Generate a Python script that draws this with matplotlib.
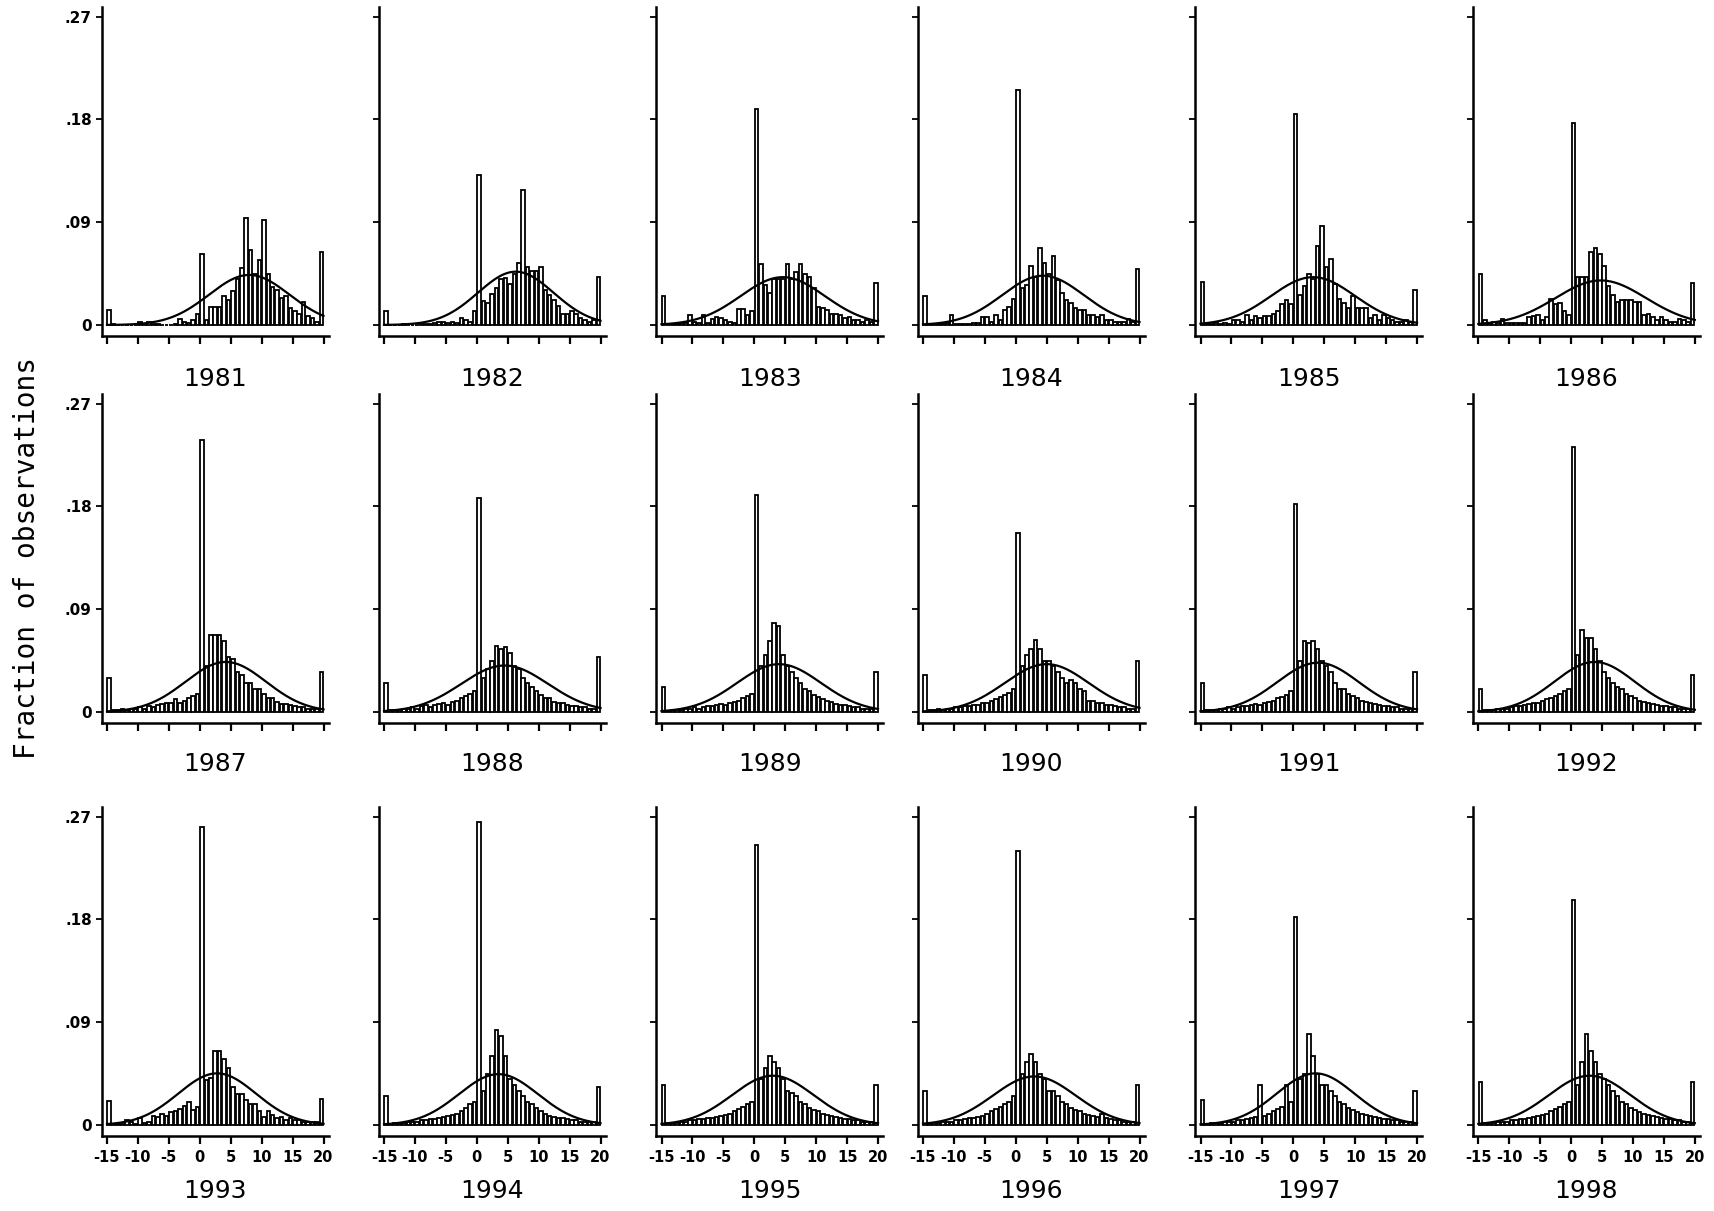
import matplotlib
matplotlib.use("Agg")
import matplotlib.pyplot as plt
import numpy as np

# fraction of observations in each of 49 bins from -15 to 20
f1981 = [.013, .001, 0, 0, 0, 0, 0, .003, .001, .003, .001, .001, 0, 0, 0, .001, .005, .003, .002, .004, .010,
         .062, .004, .016, .016, .016, .025, .022, .030, .040, .050, .094, .066, .045, .057, .092, .045, .033,
         .031, .024, .025, .015, .012, .010, .020, .008, .006, .003, .064]
f1982 = [.012, 0, 0, 0, .001, 0, 0, 0, .001, .001, .001, .002, .003, .003, .002, .003, .002, .006, .004, .003, .012,
         .131, .021, .019, .027, .032, .040, .041, .036, .045, .054, .118, .051, .047, .047, .051, .031, .026,
         .022, .017, .010, .010, .012, .010, .006, .004, .003, .004, .042]
f1983 = [.025, 0, .001, .001, .002, .002, .009, .003, .002, .009, .002, .005, .007, .006, .004, .003, .002, .014,
         .014, .009, .012, .189, .053, .035, .028, .040, .040, .040, .053, .040, .046, .053, .045, .042, .032,
         .016, .015, .013, .010, .010, .009, .006, .007, .004, .004, .003, .004, .003, .037]
f1984 = [.025, .001, .001, .001, .001, .002, .009, .001, .001, .001, .001, .002, .002, .007, .007, .003, .009,
         .004, .013, .016, .023, .206, .032, .035, .052, .042, .067, .054, .045, .060, .039, .028, .022, .019,
         .015, .013, .013, .009, .009, .007, .009, .004, .004, .003, .003, .003, .005, .003, .049]
f1985 = [.038, .001, .001, .002, .001, .002, .001, .004, .004, .003, .009, .004, .008, .006, .008, .008, .010,
         .012, .018, .022, .018, .185, .026, .034, .045, .040, .069, .087, .051, .058, .036, .023, .019, .015,
         .025, .015, .015, .015, .006, .009, .004, .009, .006, .004, .003, .003, .004, .003, .031]
f1986 = [.045, .004, .002, .003, .002, .005, .002, .002, .002, .002, .002, .007, .008, .009, .004, .007, .023,
         .018, .019, .012, .009, .177, .042, .042, .042, .064, .067, .062, .052, .034, .026, .020, .022, .022,
         .022, .020, .020, .009, .010, .007, .004, .007, .004, .003, .003, .005, .004, .003, .037]
f1987 = [.030, .002, .002, .003, .002, .003, .003, .004, .003, .005, .004, .006, .007, .008, .008, .011, .008,
         .010, .012, .014, .016, .238, .040, .067, .067, .067, .062, .048, .046, .035, .032, .025, .025, .020,
         .020, .016, .012, .012, .009, .007, .007, .006, .005, .004, .004, .003, .003, .003, .035]
f1988 = [.025, .002, .002, .002, .003, .003, .004, .003, .005, .006, .004, .006, .007, .008, .006, .009, .010,
         .012, .014, .016, .018, .187, .030, .038, .045, .058, .055, .057, .052, .040, .038, .030, .025, .022,
         .018, .015, .012, .012, .009, .008, .008, .006, .005, .005, .004, .004, .003, .003, .048]
f1989 = [.022, .001, .002, .002, .002, .003, .003, .004, .003, .004, .005, .005, .006, .007, .006, .008, .009,
         .010, .012, .014, .016, .190, .040, .050, .062, .078, .075, .050, .040, .035, .030, .025, .020, .018,
         .015, .013, .011, .010, .009, .007, .006, .006, .005, .004, .004, .003, .003, .003, .035]
f1990 = [.032, .002, .002, .003, .002, .003, .003, .004, .004, .005, .005, .006, .006, .008, .008, .010, .011,
         .013, .015, .017, .020, .157, .040, .050, .055, .063, .055, .045, .045, .040, .035, .030, .025, .028,
         .025, .020, .018, .010, .010, .008, .008, .006, .006, .005, .004, .004, .003, .003, .045]
f1991 = [.025, .002, .002, .002, .003, .003, .004, .003, .004, .005, .005, .006, .007, .006, .008, .009, .010,
         .012, .013, .015, .018, .182, .045, .062, .060, .062, .055, .045, .040, .035, .025, .020, .020, .016,
         .014, .012, .010, .009, .008, .007, .006, .005, .005, .004, .004, .003, .003, .003, .035]
f1992 = [.020, .002, .002, .002, .003, .003, .003, .004, .005, .005, .006, .007, .008, .008, .010, .011, .012,
         .014, .016, .018, .020, .232, .050, .072, .065, .065, .055, .045, .035, .030, .025, .022, .020, .016,
         .014, .012, .010, .009, .008, .007, .006, .005, .005, .004, .004, .003, .003, .003, .032]
f1993 = [.021, .001, .001, .001, .004, .003, .001, .006, .002, .003, .008, .007, .010, .008, .011, .012, .014,
         .017, .020, .013, .016, .261, .039, .041, .065, .065, .058, .050, .033, .027, .027, .022, .018, .018,
         .012, .007, .012, .009, .006, .007, .004, .006, .004, .004, .003, .003, .003, .003, .023]
f1994 = [.025, .001, .002, .002, .002, .003, .003, .003, .004, .004, .005, .005, .006, .007, .008, .009, .010,
         .012, .015, .018, .020, .265, .030, .045, .060, .083, .078, .060, .040, .035, .030, .025, .020, .018,
         .015, .012, .010, .008, .007, .006, .006, .005, .004, .004, .003, .003, .003, .003, .033]
f1995 = [.035, .002, .002, .002, .003, .003, .004, .004, .005, .005, .006, .006, .007, .008, .009, .010, .012,
         .014, .016, .018, .020, .245, .040, .050, .060, .055, .050, .040, .030, .028, .025, .020, .018, .015,
         .013, .012, .010, .009, .008, .007, .006, .005, .005, .004, .004, .003, .003, .003, .035]
f1996 = [.030, .002, .002, .002, .003, .003, .003, .004, .004, .005, .006, .006, .007, .008, .010, .012, .014,
         .016, .018, .020, .025, .240, .045, .055, .062, .055, .045, .040, .030, .030, .025, .020, .018, .015,
         .013, .012, .010, .009, .008, .007, .010, .006, .005, .004, .004, .003, .003, .003, .035]
f1997 = [.022, .001, .002, .002, .002, .003, .003, .003, .004, .004, .005, .006, .007, .035, .008, .010, .012,
         .014, .016, .035, .020, .182, .040, .045, .080, .060, .045, .035, .035, .030, .025, .020, .018, .015,
         .013, .011, .010, .009, .008, .007, .006, .005, .005, .004, .004, .003, .003, .003, .030]
f1998 = [.038, .002, .002, .002, .003, .003, .003, .004, .004, .005, .005, .006, .007, .008, .009, .010, .012,
         .014, .016, .018, .020, .197, .035, .055, .080, .065, .055, .045, .040, .035, .030, .025, .020, .018,
         .015, .013, .011, .010, .009, .008, .007, .006, .005, .005, .004, .004, .003, .003, .038]

years = list(range(1981, 1999))
fracs = [f1981, f1982, f1983, f1984, f1985, f1986, f1987, f1988, f1989,
         f1990, f1991, f1992, f1993, f1994, f1995, f1996, f1997, f1998]

# mean and sd of the overlaid normal curve
mu = [8.0, 6.3, 4.6, 4.4, 3.2, 4.8, 4.2, 4.5, 4.0, 5.0, 4.0, 3.8, 2.8, 3.5, 3.0, 3.0, 3.6, 3.0]
sd = [6.5, 6.1, 6.8, 6.6, 6.8, 7.3, 6.5, 7.0, 6.8, 6.8, 6.6, 6.5, 6.3, 6.4, 6.6, 6.7, 6.3, 6.6]

xticks = [-15, -10, -5, 0, 5, 10, 15, 20]
yticks = [0, .09, .18, .27]
ylabels = ["0", ".09", ".18", ".27"]

W, H = 1714, 1211
fig = plt.figure(figsize=(W / 100, H / 100), dpi=100)

edges = np.linspace(-15, 20, 50)
bw = edges[1] - edges[0]
centers = (edges[:-1] + edges[1:]) / 2
xs = np.linspace(-15, 20, 400)

# panel geometry in pixels
X15 = [107, 384, 661.5, 923, 1200.5, 1478.3]
Z = [325, 712, 1125]
ppx = 216.5 / 35
ppy = 308.3 / 0.27
xlim = (-15 - 5.5 / ppx, 20 + 5 / ppx)
ylim = (-11 / ppy, 0.27 + 10 / ppy)
title_off = [54, 52, 66]

for k, year in enumerate(years):
    r, c = divmod(k, 6)
    left = X15[c] - 5.5
    w = (xlim[1] - xlim[0]) * ppx
    top = Z[r] - ylim[1] * ppy
    h = (ylim[1] - ylim[0]) * ppy
    ax = fig.add_axes([left / W, 1 - (top + h) / H, w / W, h / H])

    ax.bar(centers, fracs[k], width=bw * 0.8, color="white", edgecolor="black",
           linewidth=1.3, zorder=2)
    ys = bw * np.exp(-0.5 * ((xs - mu[k]) / sd[k]) ** 2) / (sd[k] * np.sqrt(2 * np.pi))
    ax.plot(xs, ys, color="black", linewidth=1.6, zorder=3)

    ax.set_xlim(*xlim)
    ax.set_ylim(*ylim)
    for s in ["top", "right"]:
        ax.spines[s].set_visible(False)
    for s in ["left", "bottom"]:
        ax.spines[s].set_linewidth(1.8)

    ax.set_xticks(xticks)
    ax.set_yticks(yticks)
    if r == 2:
        ax.set_xticklabels([str(t) for t in xticks], fontweight="bold", fontsize=10.5)
    else:
        ax.set_xticklabels([])
    if c == 0:
        ax.set_yticklabels(ylabels, fontweight="bold", fontsize=11)
    else:
        ax.set_yticklabels([])
    ax.tick_params(axis="x", length=6, width=1.6, direction="out", pad=4)
    ax.tick_params(axis="y", length=4, width=1.3, direction="out", pad=3)

    fig.text((X15[c] + 108.25) / W, 1 - (Z[r] + title_off[r]) / H, str(year),
             ha="center", va="center", fontsize=18)

fig.text(27 / W, 1 - 558 / H, "Fraction of observations", rotation=90,
         ha="center", va="center", family="DejaVu Sans Mono", fontsize=20)

fig.savefig("out.png", dpi=100)
